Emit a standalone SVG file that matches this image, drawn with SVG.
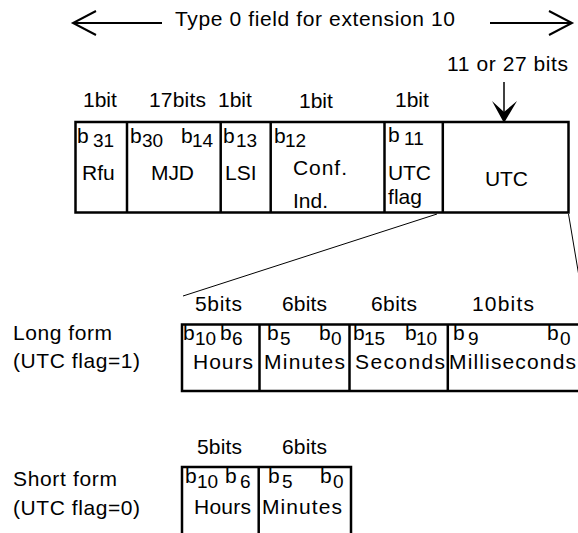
<svg xmlns="http://www.w3.org/2000/svg" width="578" height="533" viewBox="0 0 578 533">
<defs>
<style>
text{font-family:"Liberation Sans",Arial,sans-serif;font-size:21px;fill:#000}
.s{font-size:19px}
.box{fill:#fff;stroke:#000;stroke-width:2.5}
.div{stroke:#000;stroke-width:2.5}
.thin{stroke:#000;stroke-width:1;fill:none}
.arr{stroke:#000;stroke-width:2;fill:none}
</style>
<marker id="chev" markerUnits="userSpaceOnUse" viewBox="-26 -14 28 28" markerWidth="28" markerHeight="28" refX="0" refY="0" orient="auto" overflow="visible">
<path d="M-23,-12 L0,0 L-23,12" stroke="#000" stroke-width="2" fill="none"/>
</marker>
</defs>
<rect width="578" height="533" fill="#fff"/>

<g id="connectors">
<line class="arr" x1="162" y1="23" x2="73" y2="23" marker-end="url(#chev)"/>
<line class="arr" x1="490" y1="23" x2="572" y2="23" marker-end="url(#chev)"/>
<line x1="504" y1="82" x2="504" y2="112" stroke="#000" stroke-width="1.5"/>
<path d="M492,101 L504,123 L517,101 L504,112 Z" fill="#000"/>
<line class="thin" x1="437" y1="214" x2="183" y2="296"/>
<line class="thin" x1="568.5" y1="214" x2="587" y2="324"/>
</g>

<g id="title">
<text x="175" y="26" textLength="280" lengthAdjust="spacing">Type 0 field for extension 10</text>
<text x="447" y="71" textLength="121" lengthAdjust="spacing">11 or 27 bits</text>
</g>

<g id="type0-field">
<rect class="box" x="75.5" y="122" width="493" height="90.5"/>
<line class="div" x1="127" y1="122" x2="127" y2="212.5"/>
<line class="div" x1="220.7" y1="122" x2="220.7" y2="212.5"/>
<line class="div" x1="270.7" y1="122" x2="270.7" y2="212.5"/>
<line class="div" x1="384.5" y1="122" x2="384.5" y2="212.5"/>
<line class="div" x1="442.8" y1="122" x2="442.8" y2="212.5"/>
<text x="83" y="107">1bit</text>
<text x="149" y="107" textLength="57" lengthAdjust="spacing">17bits</text>
<text x="218" y="107">1bit</text>
<text x="299" y="108">1bit</text>
<text x="395" y="107">1bit</text>
<g id="rfu"><text x="77" y="143">b<tspan class="s" x="93" y="147">31</tspan></text><text x="82" y="180">Rfu</text></g>
<g id="mjd"><text x="130" y="143">b<tspan class="s" x="142" y="147">30</tspan></text><text x="181" y="143">b<tspan class="s" x="192" y="147">14</tspan></text><text x="151" y="180" textLength="43" lengthAdjust="spacing">MJD</text></g>
<g id="lsi"><text x="225" y="180">LSI</text><text x="223" y="143">b<tspan class="s" x="236" y="147">13</tspan></text></g>
<g id="conf"><text x="274" y="143">b<tspan class="s" x="285" y="147">12</tspan></text><text x="293" y="175" textLength="54" lengthAdjust="spacing">Conf.</text><text x="293" y="208">Ind.</text></g>
<g id="utcflag"><text x="388" y="142">b<tspan class="s" x="404" y="145">11</tspan></text><text x="388" y="180" textLength="43" lengthAdjust="spacing">UTC</text><text x="388" y="204" textLength="34" lengthAdjust="spacing">flag</text></g>
<g id="utc"><text x="485" y="186" textLength="43" lengthAdjust="spacing">UTC</text></g>
</g>

<g id="long-form">
<text x="13" y="340" textLength="99" lengthAdjust="spacing">Long form</text>
<text x="13" y="368" textLength="127" lengthAdjust="spacing">(UTC flag=1)</text>
<text x="195" y="311" textLength="47" lengthAdjust="spacing">5bits</text>
<text x="282" y="311" textLength="45" lengthAdjust="spacing">6bits</text>
<text x="371" y="311" textLength="46" lengthAdjust="spacing">6bits</text>
<text x="472" y="311" textLength="62" lengthAdjust="spacing">10bits</text>
<rect class="box" x="182" y="324.5" width="420" height="66.5"/>
<line class="div" x1="259.5" y1="324.5" x2="259.5" y2="391"/>
<line class="div" x1="349.5" y1="324.5" x2="349.5" y2="391"/>
<line class="div" x1="447.8" y1="324.5" x2="447.8" y2="391"/>
<g id="long-hours"><text x="183" y="340">b<tspan class="s" x="195" y="345">10</tspan><tspan x="220" y="340">b</tspan><tspan class="s" x="232" y="345">6</tspan></text><text x="193" y="369" textLength="60" lengthAdjust="spacing">Hours</text></g>
<g id="long-minutes"><text x="267" y="340">b<tspan class="s" x="280" y="345">5</tspan><tspan x="319" y="340">b</tspan><tspan class="s" x="331" y="345">0</tspan></text><text x="264" y="369" textLength="81" lengthAdjust="spacing">Minutes</text></g>
<g id="long-seconds"><text x="353" y="340">b<tspan class="s" x="364" y="345">15</tspan><tspan x="405" y="340">b</tspan><tspan class="s" x="416" y="345">10</tspan></text><text x="355" y="369" textLength="90" lengthAdjust="spacing">Seconds</text></g>
<g id="long-ms"><text x="453" y="340">b<tspan class="s" x="468" y="345">9</tspan><tspan x="547" y="340">b</tspan><tspan class="s" x="560" y="345">0</tspan></text><text x="449" y="369" textLength="127" lengthAdjust="spacing">Milliseconds</text></g>
</g>

<g id="short-form">
<text x="13" y="486" textLength="104" lengthAdjust="spacing">Short form</text>
<text x="13" y="515" textLength="127" lengthAdjust="spacing">(UTC flag=0)</text>
<text x="197" y="454" textLength="45" lengthAdjust="spacing">5bits</text>
<text x="282" y="454" textLength="45" lengthAdjust="spacing">6bits</text>
<rect class="box" x="182" y="467" width="169" height="80"/>
<line class="div" x1="258.7" y1="467" x2="258.7" y2="547"/>
<g id="short-hours"><text x="185" y="483">b<tspan class="s" x="197" y="488">10</tspan><tspan x="225" y="483">b</tspan><tspan class="s" x="240" y="488">6</tspan></text><text x="194" y="514" textLength="57" lengthAdjust="spacing">Hours</text></g>
<g id="short-minutes"><text x="268" y="483">b<tspan class="s" x="282" y="488">5</tspan><tspan x="320" y="483">b</tspan><tspan class="s" x="333" y="488">0</tspan></text><text x="262" y="514" textLength="80" lengthAdjust="spacing">Minutes</text></g>
</g>
</svg>
